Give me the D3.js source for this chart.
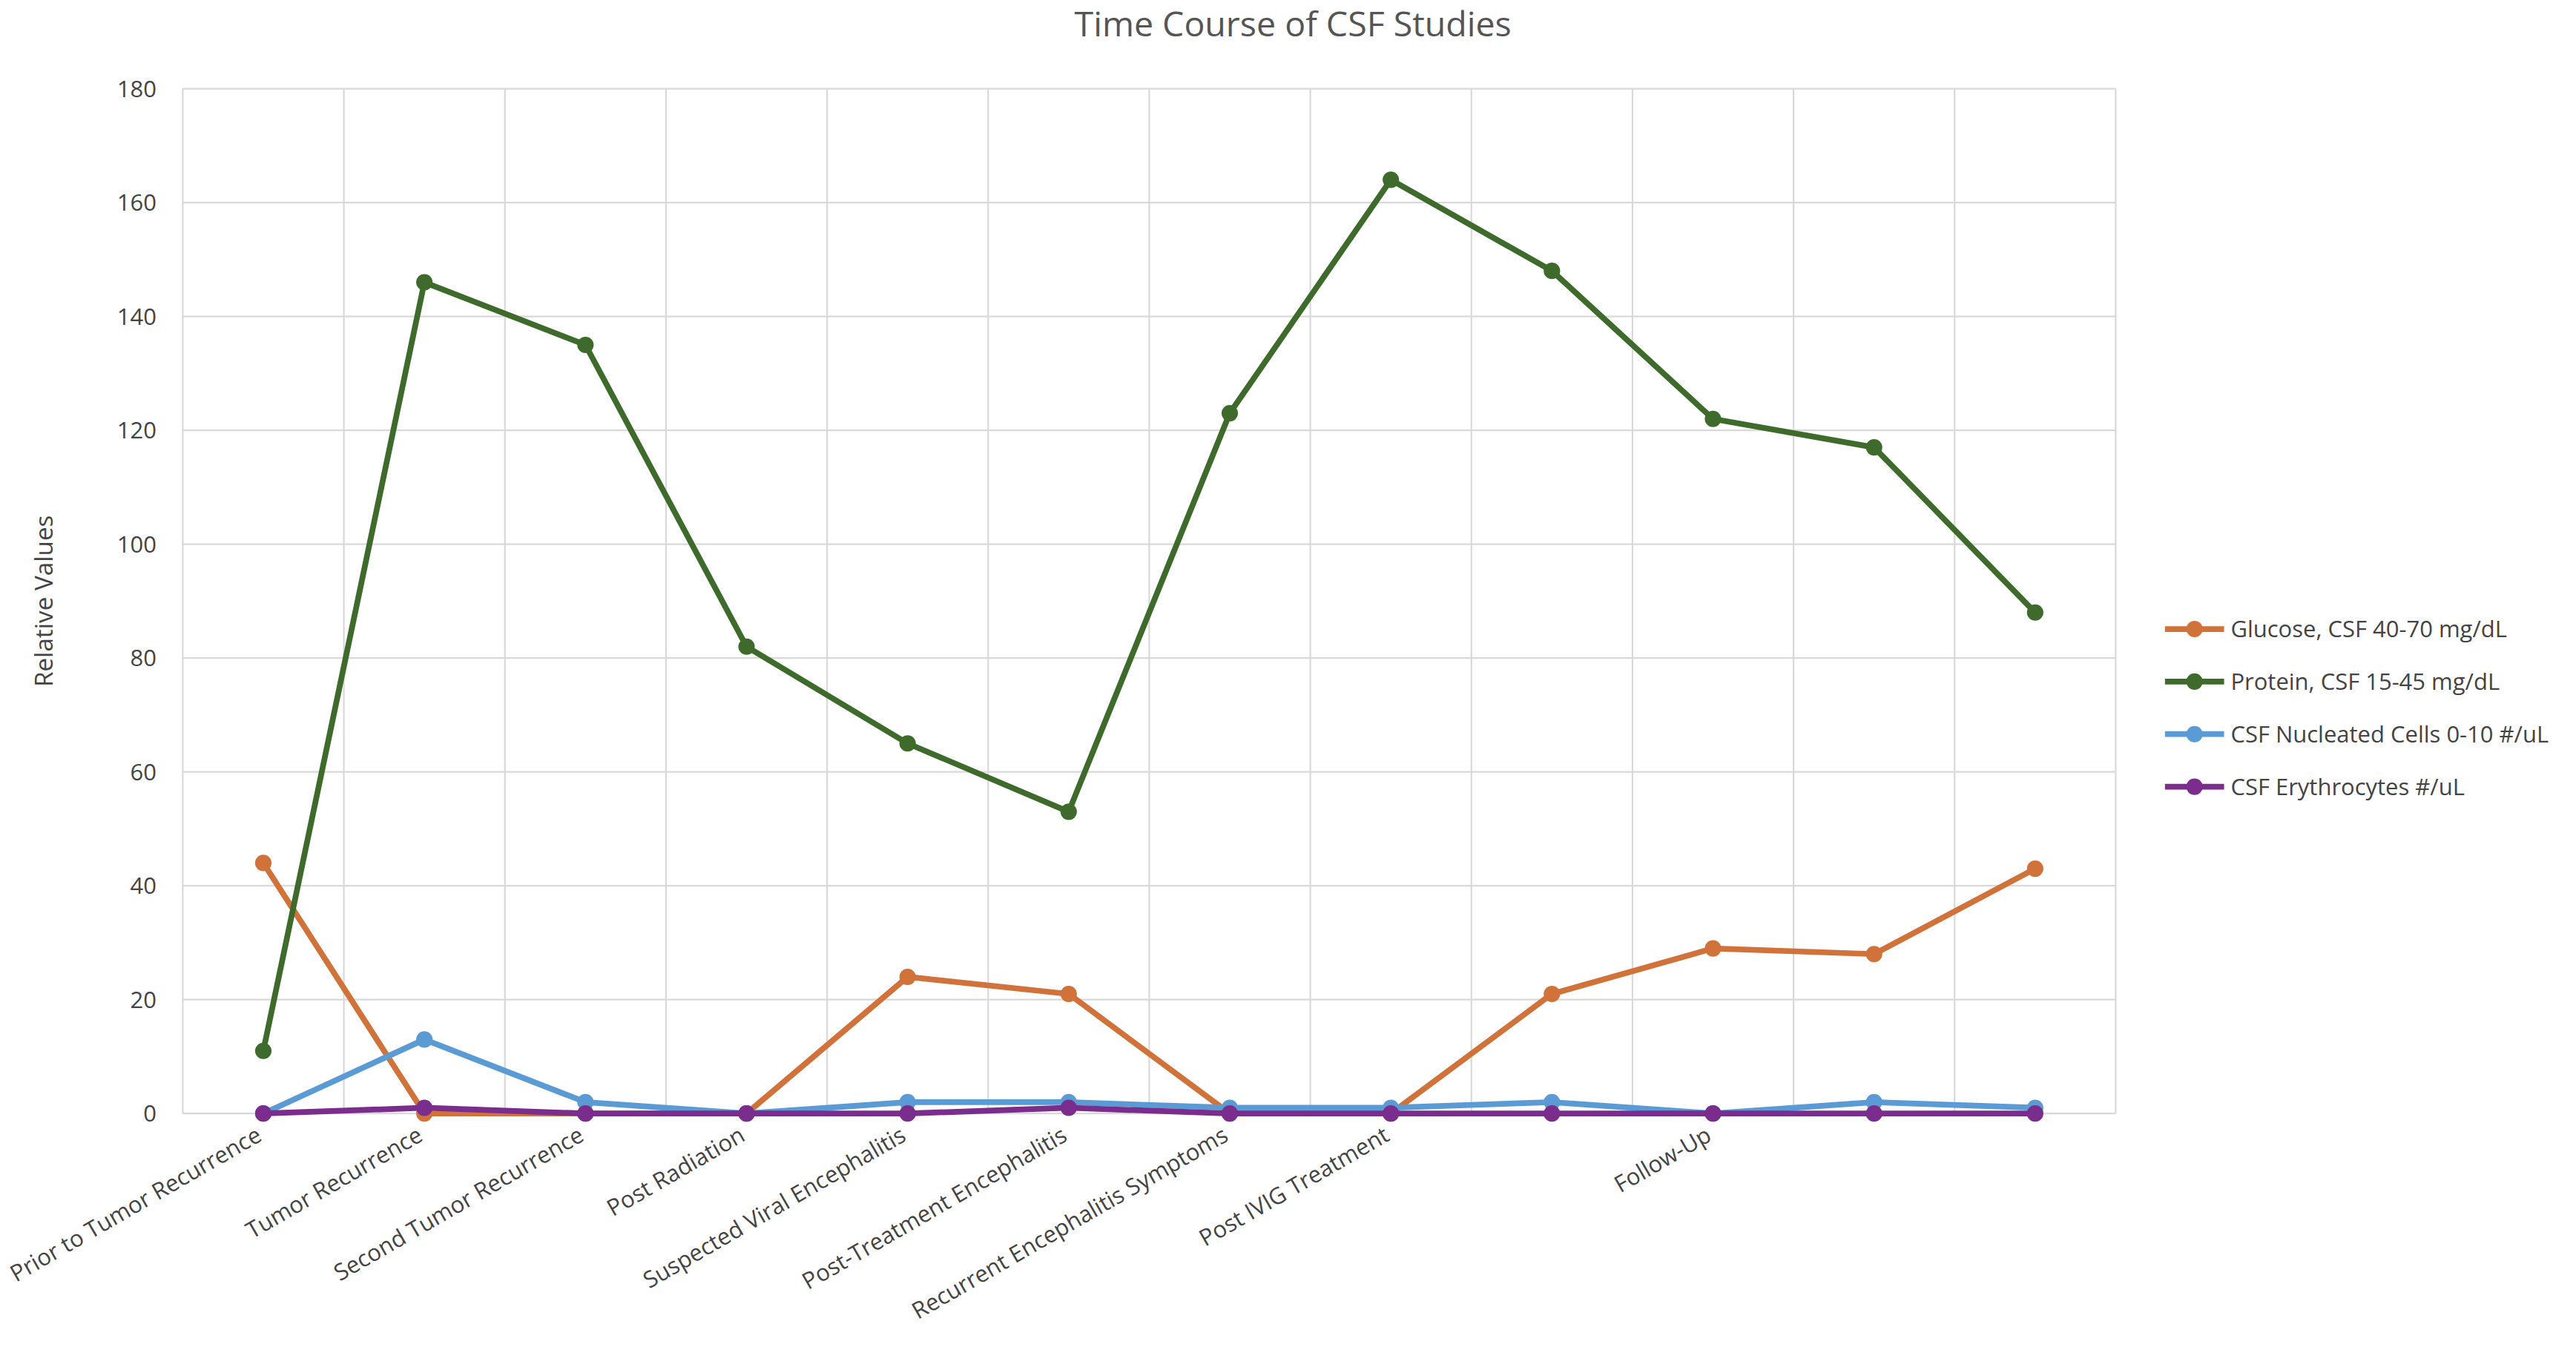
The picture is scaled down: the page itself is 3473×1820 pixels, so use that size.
<!DOCTYPE html>
<html>
<head>
<meta charset="utf-8">
<script src="https://cdn.jsdelivr.net/npm/d3@7"></script>
<style>
  body { margin: 0; background: #fff; }
  svg { display: block; font-family: "Open Sans", "Liberation Sans", sans-serif; }
</style>
</head>
<body>
<div id="chart"></div>
<script>
// categories (12 time points, some unlabeled)
const categories = ['Prior to Tumor Recurrence', 'Tumor Recurrence', 'Second Tumor Recurrence', 'Post Radiation',
    'Suspected Viral Encephalitis', 'Post-Treatment Encephalitis', 'Recurrent Encephalitis Symptoms',
    'Post IVIG Treatment', '', 'Follow-Up', '', ''];

const glucose = [44, 0, 0, 0, 24, 21, 0, 0, 21, 29, 28, 43];
const protein = [11, 146, 135, 82, 65, 53, 123, 164, 148, 122, 117, 88];
const nucleated = [0, 13, 2, 0, 2, 2, 1, 1, 2, 0, 2, 1];
const erythrocytes = [0, 1, 0, 0, 0, 1, 0, 0, 0, 0, 0, 0];

const yTicks = [0, 20, 40, 60, 80, 100, 120, 140, 160, 180];

const series = [
    { name: 'Glucose, CSF 40-70 mg/dL', values: glucose, color: '#d0723a' },
    { name: 'Protein, CSF 15-45 mg/dL', values: protein, color: '#3e6b2b' },
    { name: 'CSF Nucleated Cells 0-10 #/uL', values: nucleated, color: '#5b9bd5' },
    { name: 'CSF Erythrocytes #/uL', values: erythrocytes, color: '#7a2d8c' }
];

const W = 1568, H = 822;
const margin = { top: 54, right: 280, bottom: 144, left: 111 };
const innerW = W - margin.left - margin.right;
const innerH = H - margin.top - margin.bottom;

const svg = d3.select('#chart').append('svg')
    .attr('width', 3473).attr('height', 1820)
    .attr('viewBox', `0 0 ${W} ${H}`);

svg.append('text')
    .attr('x', 787).attr('y', 22)
    .attr('text-anchor', 'middle')
    .attr('font-size', 21)
    .attr('fill', '#555')
    .text('Time Course of CSF Studies');

const g = svg.append('g').attr('transform', `translate(${margin.left},${margin.top})`);

const x = d3.scaleBand().domain(d3.range(categories.length)).range([0, innerW]);
const y = d3.scaleLinear().domain([0, 180]).range([innerH, 0]);
const cx = (i) => x(i) + x.bandwidth() / 2;

// gridlines
g.selectAll('.hgrid').data(yTicks).enter().append('line')
    .attr('x1', 0).attr('x2', innerW)
    .attr('y1', (d) => y(d)).attr('y2', (d) => y(d))
    .attr('stroke', '#d9d9d9');

g.selectAll('.vgrid').data(d3.range(categories.length + 1)).enter().append('line')
    .attr('x1', (i) => i * x.bandwidth()).attr('x2', (i) => i * x.bandwidth())
    .attr('y1', 0).attr('y2', innerH)
    .attr('stroke', '#d9d9d9');

// y axis labels
g.selectAll('.ytick').data(yTicks).enter().append('text')
    .attr('x', -16).attr('y', (d) => y(d) + 5)
    .attr('text-anchor', 'end')
    .attr('font-size', 14)
    .attr('fill', '#444')
    .text((d) => d);

svg.append('text')
    .attr('transform', `translate(32,${margin.top + innerH / 2}) rotate(-90)`)
    .attr('text-anchor', 'middle')
    .attr('font-size', 15)
    .attr('fill', '#444')
    .text('Relative Values');

// x labels
g.selectAll('.xtick').data(categories).enter().append('text')
    .attr('transform', (d, i) => `translate(${cx(i)},${innerH + 16}) rotate(-30)`)
    .attr('text-anchor', 'end')
    .attr('font-size', 14)
    .attr('fill', '#444')
    .text((d) => d);

// lines
const line = d3.line().x((d, i) => cx(i)).y((d) => y(d));
series.forEach((s) => {
    g.append('path')
        .datum(s.values)
        .attr('fill', 'none')
        .attr('stroke', s.color)
        .attr('stroke-width', 3.5)
        .attr('stroke-linejoin', 'round')
        .attr('d', line);
    g.selectAll(null).data(s.values).enter().append('circle')
        .attr('cx', (d, i) => cx(i)).attr('cy', (d) => y(d))
        .attr('r', 5)
        .attr('fill', s.color);
});

// legend
const legend = svg.append('g').attr('transform', 'translate(1318,383)');
series.forEach((s, i) => {
    const row = legend.append('g').attr('transform', `translate(0,${i * 32})`);
    row.append('line').attr('x1', 0).attr('x2', 36).attr('y1', 0).attr('y2', 0)
        .attr('stroke', s.color).attr('stroke-width', 3.5);
    row.append('circle').attr('cx', 18).attr('cy', 0).attr('r', 5).attr('fill', s.color);
    row.append('text').attr('x', 40).attr('y', 5)
        .attr('font-size', 14).attr('fill', '#444')
        .text(s.name);
});
</script>
</body>
</html>
